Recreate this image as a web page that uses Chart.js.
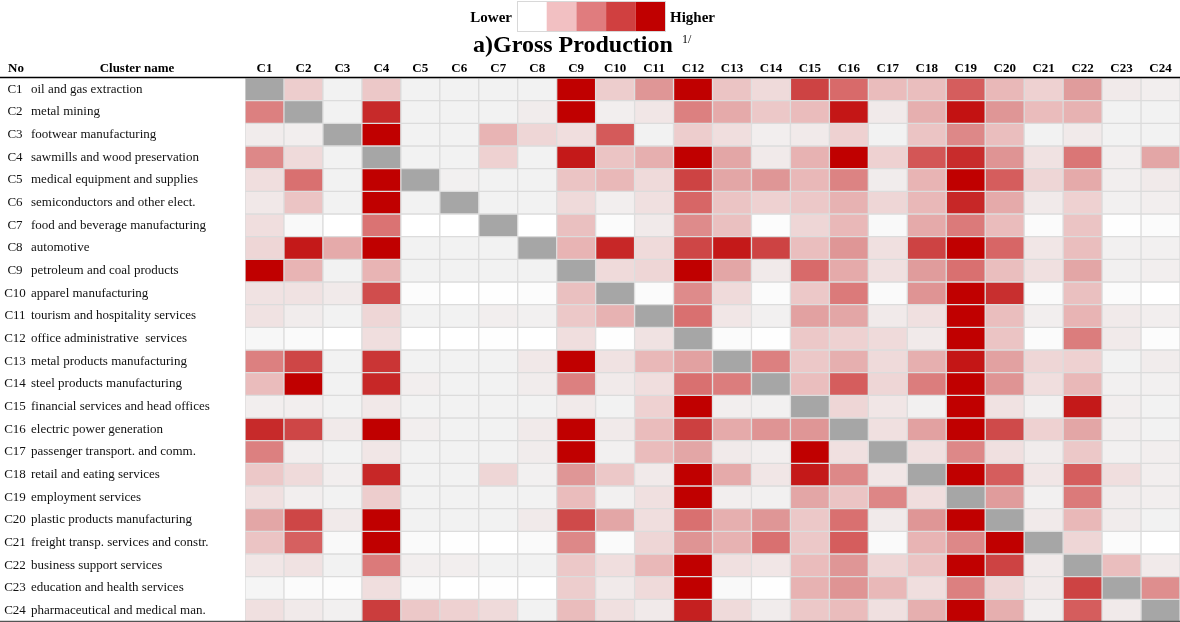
<!DOCTYPE html>
<html>
<head>
<meta charset="utf-8">
<script src="https://cdn.jsdelivr.net/npm/chart.js@4.4.0/dist/chart.umd.min.js"></script>
<style>
  html, body { margin: 0; padding: 0; background: #fff; }
  #wrap { width: 1180px; height: 622px; }
</style>
</head>
<body>
<div id="wrap"><canvas id="heat" width="1180" height="622"></canvas></div>
<script>
const columnLabels = ['C1','C2','C3','C4','C5','C6','C7','C8','C9','C10','C11','C12',
  'C13','C14','C15','C16','C17','C18','C19','C20','C21','C22','C23','C24'];
const clusterCodes = columnLabels.slice();
const clusterNames = [
  'oil and gas extraction', 'metal mining', 'footwear manufacturing', 'sawmills and wood preservation',
  'medical equipment and supplies', 'semiconductors and other elect.', 'food and beverage manufacturing', 'automotive',
  'petroleum and coal products', 'apparel manufacturing', 'tourism and hospitality services', 'office administrative  services',
  'metal products manufacturing', 'steel products manufacturing', 'financial services and head offices', 'electric power generation',
  'passenger transport. and comm.', 'retail and eating services', 'employment services', 'plastic products manufacturing',
  'freight transp. services and constr.', 'business support services', 'education and health services', 'pharmaceutical and medical man.'
];
// relative intensity 0-100, null = own cluster (diagonal)
const production = [
  [null,28,10,30,10,10,10,10, 100,28,52,100,32,22,79,67, 36,35,71,38,26,50,14,12],
  [60,null,10,88,10,10,10,13, 100,12,16,60,44,30,36,94, 14,42,95,52,36,41,10,10],
  [13,12,null,100,10,10,40,24, 20,72,10,28,20,12,14,26, 10,32,57,35,10,14,10,10],
  [57,22,10,null,10,10,26,10, 93,32,42,100,46,14,41,100, 26,73,87,53,18,63,12,46],
  [20,65,10,100,null,11,10,10, 32,38,22,79,46,52,38,59, 13,40,100,71,24,44,12,14],
  [15,32,10,100,10,null,10,10, 22,12,19,68,32,26,30,41, 24,38,89,44,14,26,11,12],
  [20,5,0,64,0,0,null,0, 34,3,14,56,34,2,24,38, 5,44,62,36,3,32,1,3],
  [24,93,44,100,10,10,10,null, 40,89,22,78,93,79,35,52, 19,79,100,68,16,35,11,11],
  [100,40,10,40,10,10,10,10, null,22,24,100,46,14,67,44, 19,50,65,35,19,46,11,12],
  [18,18,14,76,2,0,1,2, 34,null,3,56,22,3,30,62, 4,53,100,86,4,34,3,0],
  [18,13,10,24,10,10,12,11, 30,41,null,65,16,11,48,46, 14,19,100,35,12,40,14,12],
  [6,4,0,20,0,0,1,0, 20,1,18,null,3,1,30,26, 22,14,100,32,3,61,14,2],
  [60,78,10,84,10,10,10,15, 100,18,38,48,null,60,30,42, 22,42,94,48,24,26,10,13],
  [36,100,10,89,12,10,10,13, 60,14,20,65,61,null,35,71, 24,61,100,53,20,38,11,11],
  [12,12,10,15,10,10,10,10, 14,10,26,100,12,11,null,24, 16,11,100,18,11,93,12,10],
  [88,78,14,100,12,10,10,14, 100,14,36,80,44,53,52,null, 19,48,100,77,26,46,12,10],
  [60,12,10,16,10,10,10,13, 100,11,36,46,14,12,100,19, null,19,57,19,13,30,11,12],
  [30,22,12,89,10,10,24,11, 52,30,14,100,44,16,93,57, 16,null,100,71,16,71,20,12],
  [19,12,10,28,10,10,10,10, 36,11,19,100,12,11,46,32, 58,20,null,50,11,62,13,12],
  [46,78,14,100,10,10,10,14, 77,46,20,65,42,52,30,65, 14,52,100,null,14,38,13,10],
  [32,70,5,100,4,1,0,4, 57,4,24,53,41,65,30,71, 4,40,57,100,null,24,3,0],
  [16,18,10,62,12,12,10,10, 30,20,38,100,19,16,36,52, 24,32,100,79,14,null,35,14],
  [8,3,2,20,4,0,1,0, 28,14,22,100,5,1,41,53, 38,20,60,24,14,79,null,55],
  [19,14,11,81,30,26,22,10, 36,19,14,91,22,13,30,36, 19,42,100,42,12,71,14,null]
];
const scaleStops = [0, 10, 22, 30, 40, 50, 60, 70, 80, 90, 100];
const scaleColors = [
  [255,255,255],[242,242,242],[239,218,218],[236,200,200],[232,180,180],[224,156,156],
  [220,128,128],[214,96,96],[204,64,64],[198,36,36],[192,0,0]
];
const legendColors = ['#ffffff', '#f2c0c2', '#e07c7e', '#d04040', '#c00000'];
const diagonalColor = '#a6a6a6';

function colorFor(v) {
  if (v === null) return diagonalColor;
  for (let k = 1; k < scaleStops.length; k++) {
    if (v <= scaleStops[k]) {
      const t = (v - scaleStops[k - 1]) / (scaleStops[k] - scaleStops[k - 1]);
      const a = scaleColors[k - 1], b = scaleColors[k];
      const c = a.map((x, i) => Math.round(x + (b[i] - x) * t));
      return `rgb(${c[0]},${c[1]},${c[2]})`;
    }
  }
  return 'rgb(192,0,0)';
}

const SERIF = '"Liberation Serif", "Times New Roman", serif';

const textPlugin = {
  id: 'heatText',
  afterDraw(chart) {
    const ctx = chart.ctx;
    const x = chart.scales.x, y = chart.scales.y;
    const area = chart.chartArea;
    ctx.save();
    ctx.fillStyle = '#000';
    ctx.textBaseline = 'middle';

    // legend
    ctx.font = 'bold 15px ' + SERIF;
    ctx.textAlign = 'right';
    ctx.fillText('Lower', 512, 18);
    ctx.textAlign = 'left';
    ctx.fillText('Higher', 670, 18);
    legendColors.forEach((c, i) => {
      ctx.fillStyle = c;
      ctx.fillRect(517 + i * 29.7, 1, 29.7, 31);
    });
    ctx.strokeStyle = '#d8d8d8';
    ctx.lineWidth = 1;
    ctx.strokeRect(517.5, 1.5, 148, 30);

    // title
    ctx.fillStyle = '#000';
    ctx.font = 'bold 24px ' + SERIF;
    ctx.textAlign = 'left';
    ctx.fillText('a)Gross Production', 473, 46);
    ctx.font = '12px ' + SERIF;
    ctx.fillText('1/', 682, 40);

    // header row
    ctx.font = 'bold 13px ' + SERIF;
    ctx.fillText('No', 8, 69);
    ctx.textAlign = 'center';
    ctx.fillText('Cluster name', 137, 69);
    columnLabels.forEach((lab, j) => ctx.fillText(lab, x.getPixelForValue(j), 69));

    // row labels
    ctx.font = '13px ' + SERIF;
    ctx.fillStyle = '#111';
    clusterNames.forEach((name, i) => {
      const py = y.getPixelForValue(i + 0.5);
      ctx.textAlign = 'center';
      ctx.fillText(clusterCodes[i], 15, py);
      ctx.textAlign = 'left';
      ctx.fillText(name, 31, py);
    });

    // rules
    ctx.strokeStyle = '#000';
    ctx.lineWidth = 1.5;
    ctx.beginPath();
    ctx.moveTo(0, area.top - 0.5);
    ctx.lineTo(1180, area.top - 0.5);
    ctx.stroke();
    ctx.strokeStyle = '#555';
    ctx.lineWidth = 1.5;
    ctx.beginPath();
    ctx.moveTo(0, 621.5);
    ctx.lineTo(1180, 621.5);
    ctx.stroke();
    ctx.restore();
  }
};

const datasets = production.map((row, i) => ({
  label: clusterCodes[i],
  data: row.map(() => [i, i + 1]),
  backgroundColor: row.map(colorFor),
  borderColor: '#dcdcdc',
  borderWidth: 1,
  borderSkipped: false,
  barPercentage: 1,
  categoryPercentage: 1,
  grouped: false
}));

new Chart(document.getElementById('heat'), {
  type: 'bar',
  data: { labels: columnLabels, datasets },
  options: {
    responsive: false,
    animation: false,
    layout: { padding: { left: 245, top: 78, right: 0, bottom: 0 } },
    plugins: { legend: { display: false }, tooltip: { enabled: false } },
    scales: {
      x: { type: 'category', display: false, grid: { display: false } },
      y: { type: 'linear', display: false, min: 0, max: 24, reverse: true }
    }
  },
  plugins: [textPlugin]
});
</script>
</body>
</html>
